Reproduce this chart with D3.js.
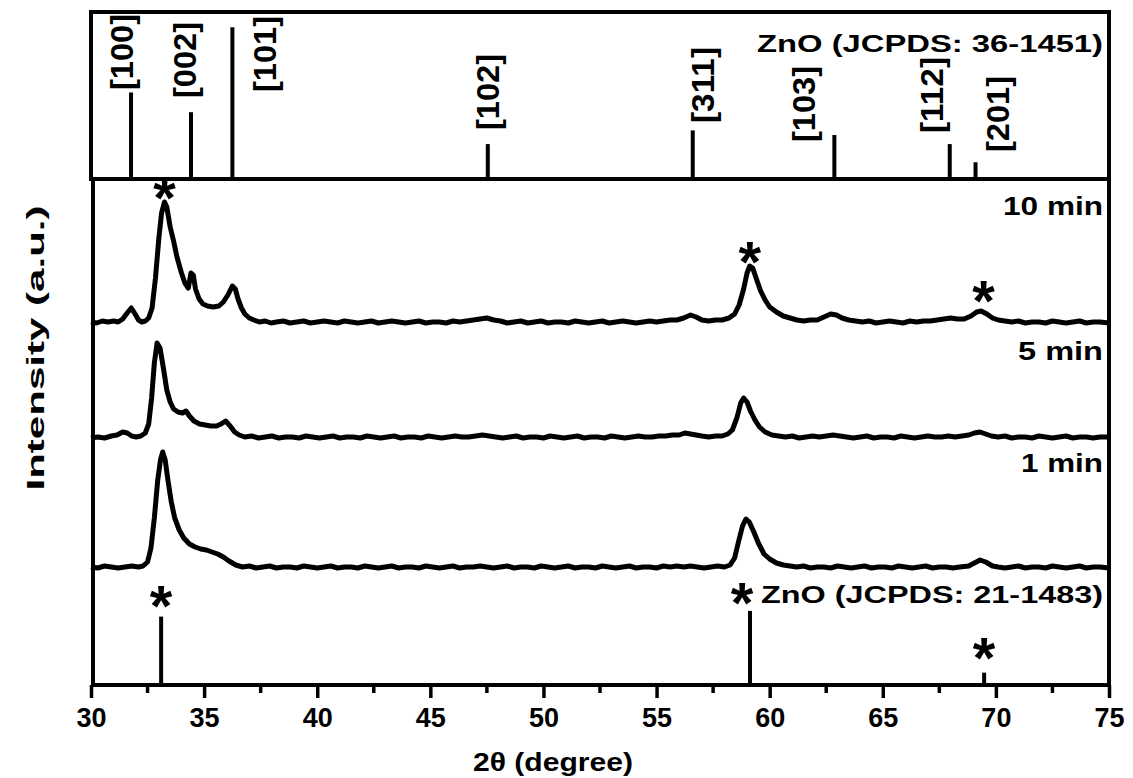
<!DOCTYPE html>
<html>
<head>
<meta charset="utf-8">
<script src="https://cdn.jsdelivr.net/npm/d3@7"></script>
<style>
  body { margin:0; background:#fff; }
  text { font-family: "Liberation Sans", Arimo, sans-serif; font-weight: bold; fill:#000; }
</style>
</head>
<body>
<script>
// reference sticks, ZnO (JCPDS: 36-1451)
var hklLabels = ["[100]","[002]","[101]","[102]","[311]","[103]","[112]","[201]"];
var hklPos = [31.77,34.42,36.25,47.54,56.60,62.86,67.96,69.10];
var hklInt = [57,44,100,23,32,29,23,11];

// reference sticks, ZnO (JCPDS: 21-1483)
var refPos = [33.1,59.13,69.48];
var refInt = [72,78,13];

var xTicks = [30,35,40,45,50,55,60,65,70,75];
var sampleNames = ["10 min","5 min","1 min"];
var baselines = [362,247,117];

// scans, [2theta, intensity above own baseline]
var scan10 = [[30.0,1],[30.25,0],[30.5,2],[30.75,1],[31.0,2],[31.2,1],[31.4,4],[31.6,10],[31.78,15],[31.95,9],[32.1,3],[32.25,1],[32.4,2],[32.55,5],[32.7,15],[32.85,45],[33.0,85],[33.12,110],[33.25,121],[33.35,116],[33.5,96],[33.65,82],[33.8,66],[34.0,50],[34.15,40],[34.3,35],[34.42,50],[34.52,48],[34.62,34],[34.78,24],[34.95,19],[35.15,17],[35.4,16],[35.65,17],[35.85,21],[36.05,28],[36.25,37],[36.38,34],[36.5,24],[36.65,15],[36.8,9],[37.0,5],[37.2,3],[37.45,1],[37.7,2],[37.95,0],[38.2,1],[38.5,2],[38.8,0],[39.1,1],[39.4,2],[39.7,0],[40.0,1],[40.3,2],[40.6,1],[40.9,0],[41.2,2],[41.5,1],[41.8,0],[42.1,1],[42.4,2],[42.7,0],[43.0,1],[43.3,2],[43.6,1],[43.9,0],[44.2,1],[44.5,2],[44.8,0],[45.1,1],[45.4,1],[45.7,0],[46.0,2],[46.3,1],[46.6,2],[46.9,3],[47.2,4],[47.5,5],[47.8,3],[48.1,2],[48.4,0],[48.7,1],[49.0,2],[49.3,0],[49.6,1],[49.9,2],[50.2,0],[50.5,1],[50.8,1],[51.1,0],[51.4,2],[51.7,1],[52.0,0],[52.3,1],[52.6,2],[52.9,0],[53.2,1],[53.5,2],[53.8,1],[54.1,0],[54.4,1],[54.7,2],[55.0,1],[55.3,2],[55.6,3],[55.9,3],[56.2,5],[56.5,8],[56.75,6],[57.0,3],[57.3,2],[57.6,3],[57.9,3],[58.2,5],[58.45,9],[58.65,18],[58.85,34],[59.0,50],[59.12,57],[59.25,55],[59.4,45],[59.6,32],[59.8,23],[60.0,16],[60.3,11],[60.6,7],[60.9,5],[61.2,3],[61.5,2],[61.8,3],[62.1,3],[62.4,6],[62.7,9],[62.95,8],[63.2,5],[63.5,3],[63.8,2],[64.1,1],[64.4,2],[64.7,0],[65.0,1],[65.3,2],[65.6,1],[65.9,0],[66.2,2],[66.5,1],[66.8,2],[67.1,2],[67.4,3],[67.7,4],[68.0,5],[68.3,4],[68.6,4],[68.9,7],[69.15,11],[69.35,12],[69.6,9],[69.85,5],[70.1,3],[70.4,2],[70.7,1],[71.0,2],[71.3,0],[71.6,1],[71.9,1],[72.2,0],[72.5,2],[72.8,1],[73.1,0],[73.4,1],[73.7,2],[74.0,0],[74.3,1],[74.6,1],[75.0,0]];

var scan5 = [[30.0,0],[30.3,1],[30.6,0],[30.9,2],[31.15,3],[31.4,6],[31.6,5],[31.8,2],[32.0,1],[32.2,2],[32.4,5],[32.55,14],[32.68,40],[32.8,75],[32.92,95],[33.05,90],[33.2,70],[33.35,48],[33.5,36],[33.65,29],[33.85,26],[34.05,25],[34.2,27],[34.35,22],[34.55,17],[34.8,14],[35.05,13],[35.3,12],[35.55,12],[35.75,14],[35.95,17],[36.15,12],[36.35,6],[36.55,3],[36.8,1],[37.1,2],[37.4,0],[37.7,1],[38.0,2],[38.3,0],[38.6,1],[38.9,1],[39.2,0],[39.5,2],[39.8,1],[40.1,0],[40.4,1],[40.7,2],[41.0,0],[41.3,1],[41.6,1],[41.9,0],[42.2,2],[42.5,1],[42.8,0],[43.1,1],[43.4,2],[43.7,0],[44.0,1],[44.3,1],[44.6,0],[44.9,2],[45.2,1],[45.5,0],[45.8,1],[46.1,2],[46.4,1],[46.7,1],[47.0,2],[47.3,3],[47.6,2],[47.9,1],[48.2,0],[48.5,1],[48.8,2],[49.1,0],[49.4,1],[49.7,1],[50.0,0],[50.3,2],[50.6,1],[50.9,0],[51.2,1],[51.5,2],[51.8,0],[52.1,1],[52.4,1],[52.7,0],[53.0,2],[53.3,1],[53.6,0],[53.9,1],[54.2,2],[54.5,1],[54.8,1],[55.1,2],[55.4,2],[55.7,3],[56.0,3],[56.25,5],[56.5,4],[56.75,3],[57.0,2],[57.3,1],[57.6,2],[57.9,2],[58.15,4],[58.35,8],[58.55,20],[58.72,35],[58.85,40],[59.0,36],[59.15,27],[59.35,18],[59.55,11],[59.8,6],[60.1,3],[60.4,2],[60.7,1],[61.0,2],[61.3,0],[61.6,1],[61.9,2],[62.2,1],[62.5,2],[62.8,3],[63.1,2],[63.4,1],[63.7,0],[64.0,1],[64.3,2],[64.6,0],[64.9,1],[65.2,1],[65.5,0],[65.8,2],[66.1,1],[66.4,0],[66.7,1],[67.0,2],[67.3,1],[67.6,1],[67.9,2],[68.2,1],[68.5,2],[68.8,3],[69.05,5],[69.3,6],[69.55,4],[69.8,2],[70.1,1],[70.4,2],[70.7,0],[71.0,1],[71.3,1],[71.6,0],[71.9,2],[72.2,1],[72.5,0],[72.8,1],[73.1,2],[73.4,0],[73.7,1],[74.0,1],[74.3,0],[74.6,1],[75.0,1]];

var scan1 = [[30.0,1],[30.3,0],[30.6,2],[30.9,1],[31.2,0],[31.5,1],[31.8,2],[32.1,1],[32.3,2],[32.5,6],[32.65,20],[32.8,50],[32.95,88],[33.07,108],[33.17,116],[33.28,108],[33.4,88],[33.55,66],[33.7,50],[33.9,38],[34.1,30],[34.35,24],[34.6,21],[34.85,19],[35.1,18],[35.35,16],[35.6,14],[35.85,11],[36.1,7],[36.4,3],[36.7,1],[37.0,2],[37.3,0],[37.6,1],[37.9,2],[38.2,0],[38.5,1],[38.8,1],[39.1,0],[39.4,2],[39.7,1],[40.0,0],[40.3,1],[40.6,2],[40.9,0],[41.2,1],[41.5,1],[41.8,0],[42.1,2],[42.4,1],[42.7,0],[43.0,1],[43.3,2],[43.6,0],[43.9,1],[44.2,1],[44.5,0],[44.8,2],[45.1,1],[45.4,0],[45.7,1],[46.0,2],[46.3,0],[46.6,1],[46.9,1],[47.2,2],[47.5,1],[47.8,0],[48.1,1],[48.4,2],[48.7,0],[49.0,1],[49.3,1],[49.6,0],[49.9,2],[50.2,1],[50.5,0],[50.8,1],[51.1,2],[51.4,0],[51.7,1],[52.0,1],[52.3,0],[52.6,2],[52.9,1],[53.2,0],[53.5,1],[53.8,2],[54.1,0],[54.4,1],[54.7,1],[55.0,0],[55.3,2],[55.6,1],[55.9,2],[56.2,1],[56.5,2],[56.8,1],[57.1,0],[57.4,1],[57.7,2],[58.0,1],[58.25,3],[58.45,10],[58.62,26],[58.8,42],[58.95,49],[59.1,46],[59.3,36],[59.5,25],[59.75,14],[60.0,9],[60.3,5],[60.6,3],[60.9,2],[61.2,1],[61.5,2],[61.8,0],[62.1,1],[62.4,1],[62.7,0],[63.0,2],[63.3,1],[63.6,0],[63.9,1],[64.2,2],[64.5,0],[64.8,1],[65.1,1],[65.4,0],[65.7,2],[66.0,1],[66.3,0],[66.6,1],[66.9,2],[67.2,0],[67.5,1],[67.8,1],[68.1,0],[68.4,1],[68.8,2],[69.05,5],[69.3,8],[69.55,6],[69.85,2],[70.1,1],[70.4,0],[70.7,1],[71.0,2],[71.3,0],[71.6,1],[71.9,1],[72.2,0],[72.5,2],[72.8,1],[73.1,0],[73.4,1],[73.7,2],[74.0,0],[74.3,1],[74.6,1],[75.0,0]];

// asterisk marks: [2theta, intensity]
var starsTop = [[33.25,493],[59.12,429],[69.45,390]];
var starsBottom = [[33.1,85],[69.48,33]];

var width = 1133;
var height = 778;
var left = 91, right = 1109;
var topY = 12, midY = 179, bottomY = 685;

var svg = d3.select("body").append("svg")
    .attr("width",width)
    .attr("height",height);

var x = d3.scaleLinear().domain([30,75]).range([left,right]);
var yTop = d3.scaleLinear().domain([0,110]).range([midY,topY]);
var y = d3.scaleLinear().domain([0,506]).range([bottomY,midY]);
var yRef = d3.scaleLinear().domain([0,100]).range([bottomY,590]);

// label offsets for the hkl texts (dx from stick, bottom y)
var hklDx = [-9,-6,33,0,10,-30,-18,22];
var hklBottom = [90,98,92,130,123,142,133,152];

var drawFrame = function()
{
  svg.append("rect")
    .attr("x",left).attr("y",topY)
    .attr("width",right-left).attr("height",midY-topY)
    .attr("fill","none").attr("stroke","#000").attr("stroke-width",4);
  svg.append("path")
    .attr("d","M"+(left+2)+","+midY+"V"+bottomY+"H"+right+"V"+midY)
    .attr("fill","none").attr("stroke","#000").attr("stroke-width",4);
}

var drawAxis = function()
{
  var g = svg.append("g").attr("transform","translate(0,"+bottomY+")");
  g.call(d3.axisBottom(x).tickValues(xTicks).tickSize(13).tickPadding(10).tickFormat(d3.format("d")));
  g.select(".domain").remove();
  g.attr("font-family",null).attr("font-size",null);
  g.selectAll(".tick line").attr("stroke-width",3.5);
  g.selectAll(".tick text").attr("font-size",27);
  var minor = xTicks.slice(0,-1).map(function(d){ return d+2.5; });
  svg.append("g").selectAll("line")
    .data(minor).enter().append("line")
    .attr("x1",function(d){ return x(d); })
    .attr("x2",function(d){ return x(d); })
    .attr("y1",bottomY).attr("y2",bottomY+8)
    .attr("stroke","#000").attr("stroke-width",3.5);

  svg.append("text")
    .attr("x",553).attr("y",771)
    .attr("text-anchor","middle")
    .attr("font-size",26)
    .attr("textLength",160).attr("lengthAdjust","spacingAndGlyphs")
    .text("2\u03B8 (degree)");

  svg.append("text")
    .attr("transform","translate(44,348) rotate(-90)")
    .attr("text-anchor","middle")
    .attr("font-size",23)
    .attr("textLength",285).attr("lengthAdjust","spacingAndGlyphs")
    .text("Intensity (a.u.)");
}

var drawSticks = function()
{
  svg.append("g").selectAll("line")
    .data(hklPos).enter().append("line")
    .attr("x1",function(d){ return x(d); })
    .attr("x2",function(d){ return x(d); })
    .attr("y1",midY)
    .attr("y2",function(d,i){ return yTop(hklInt[i]); })
    .attr("stroke","#000").attr("stroke-width",4);

  svg.append("g").selectAll("text")
    .data(hklLabels).enter().append("text")
    .attr("transform",function(d,i){
      return "translate("+(x(hklPos[i])+hklDx[i]+11)+","+hklBottom[i]+") rotate(-90)";
    })
    .attr("font-size",31)
    .attr("textLength",76).attr("lengthAdjust","spacingAndGlyphs")
    .text(function(d){ return d; });

  svg.append("text")
    .attr("x",757).attr("y",52)
    .attr("font-size",24)
    .attr("textLength",346).attr("lengthAdjust","spacingAndGlyphs")
    .text("ZnO (JCPDS: 36-1451)");

  svg.append("g").selectAll("line")
    .data(refPos).enter().append("line")
    .attr("x1",function(d){ return x(d); })
    .attr("x2",function(d){ return x(d); })
    .attr("y1",bottomY)
    .attr("y2",function(d,i){ return yRef(refInt[i]); })
    .attr("stroke","#000").attr("stroke-width",4);

  svg.append("text")
    .attr("x",761).attr("y",603)
    .attr("font-size",24)
    .attr("textLength",342).attr("lengthAdjust","spacingAndGlyphs")
    .text("ZnO (JCPDS: 21-1483)");
}

var drawScans = function()
{
  var scans = [scan10,scan5,scan1];
  scans.forEach(function(scan,k)
  {
    var line = d3.line()
      .x(function(d){ return x(d[0]); })
      .y(function(d){ return y(d[1]+baselines[k]); });
    svg.append("path")
      .datum(scan)
      .attr("d",line)
      .attr("fill","none")
      .attr("stroke","#000")
      .attr("stroke-width",5)
      .attr("stroke-linejoin","round");
  });

  var nameY = [215,360,472];
  var nameLen = [100,85,82];
  svg.append("g").selectAll("text")
    .data(sampleNames).enter().append("text")
    .attr("x",function(d,i){ return 1103-nameLen[i]; })
    .attr("y",function(d,i){ return nameY[i]; })
    .attr("font-size",26)
    .attr("textLength",function(d,i){ return nameLen[i]; })
    .attr("lengthAdjust","spacingAndGlyphs")
    .text(function(d){ return d; });
}

var drawStars = function()
{
  var all = starsTop.concat(starsBottom);
  svg.append("g").selectAll("text")
    .data(all).enter().append("text")
    .attr("x",function(d){ return x(d[0]); })
    .attr("y",function(d){ return y(d[1])+26; })
    .attr("text-anchor","middle")
    .attr("font-size",58)
    .text("*");
  // star next to the 21-1483 label
  svg.append("text")
    .attr("x",742).attr("y",597+26)
    .attr("text-anchor","middle")
    .attr("font-size",58)
    .text("*");
}

drawFrame();
drawSticks();
drawScans();
drawStars();
drawAxis();
</script>
</body>
</html>
